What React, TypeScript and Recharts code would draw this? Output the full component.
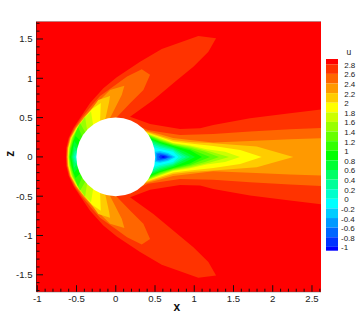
import React from 'react';
import {
  ScatterChart, Scatter, XAxis, YAxis, ReferenceDot, ReferenceLine, ReferenceArea,
} from 'recharts';

type P = [number, number];

// Legend levels of u, top to bottom
const LEVELS = [2.8, 2.6, 2.4, 2.2, 2, 1.8, 1.6, 1.4, 1.2, 1, 0.8, 0.6, 0.4, 0.2, 0, -0.2, -0.4, -0.6, -0.8, -1];
// Flood colours, from the band above 2.8 to the band below -1
const BAND_COLORS = [
  '#ff0000', '#ff3300', '#ff6600', '#ff9900', '#ffcc00', '#ffff00', '#ccff00', '#99ff00', '#66ff00', '#33ff00',
  '#00ff00', '#00ff33', '#00ff66', '#00ff99', '#00ffcc', '#00ffff', '#00ccff', '#0099ff', '#0066ff', '#0033ff', '#0000ff',
];

const X_MIN = -1.01;
const X_MAX = 2.615;
const Z_MIN = -1.715;
const Z_MAX = 1.72;
const LEGEND_MIN = -1.08;
const LEGEND_MAX = 2.91;

const X_TICKS = [-1, -0.9, -0.8, -0.7, -0.6, -0.5, -0.4, -0.3, -0.2, -0.1, 0, 0.1, 0.2, 0.3, 0.4, 0.5, 0.6, 0.7, 0.8, 0.9, 1, 1.1, 1.2, 1.3, 1.4, 1.5, 1.6, 1.7, 1.8, 1.9, 2, 2.1, 2.2, 2.3, 2.4, 2.5, 2.6];
const X_LABELS = [-1, -0.5, 0, 0.5, 1, 1.5, 2, 2.5];
const Z_TICKS = [-1.7, -1.6, -1.5, -1.4, -1.3, -1.2, -1.1, -1, -0.9, -0.8, -0.7, -0.6, -0.5, -0.4, -0.3, -0.2, -0.1, 0, 0.1, 0.2, 0.3, 0.4, 0.5, 0.6, 0.7, 0.8, 0.9, 1, 1.1, 1.2, 1.3, 1.4, 1.5, 1.6, 1.7];
const Z_LABELS = [-1.5, -1, -0.5, 0, 0.5, 1, 1.5];

// Upper half (z >= 0) of each contour "u < level"; the flow field is mirrored about z = 0
const u28: P[] = [[-.633,0],[-.63,.114],[-.60,.241],[-.54,.368],[-.455,.496],[-.327,.686],[-.158,.873],[.013,1.013],[.31,1.21],[.586,1.373],[1.052,1.538],[1.278,1.509],[1.18,1.338],[.989,1.148],[.755,.957],[.479,.725],[.182,.512],[.437,.419],[.819,.356],[1.074,.365],[1.243,.407],[1.711,.492],[2.22,.555],[2.615,.604]];
const u26: P[] = [[-.627,0],[-.62,.114],[-.589,.242],[-.525,.369],[-.436,.496],[-.302,.661],[-.2,.775],[.004,.922],[.144,1.023],[.331,1.115],[.437,1.046],[.352,.852],[.182,.683],[.004,.496],[.348,.369],[.411,.343],[.564,.318],[.819,.28],[1.243,.292],[1.711,.322],[2.22,.352],[2.615,.369]];
const u24: P[] = [[-.62,0],[-.614,.114],[-.582,.242],[-.512,.369],[-.417,.496],[-.289,.636],[-.073,.852],[.11,.906],[.076,.788],[-.073,.496],[.373,.337],[.564,.289],[.73,.242],[.946,.216],[1.243,.182],[1.711,.203],[2.22,.225],[2.615,.238]];
const u22: P[] = [[-.614,0],[-.608,.114],[-.576,.242],[-.506,.369],[-.404,.496],[-.315,.597],[-.222,.725],[-.073,.775],[-.085,.699],[-.136,.47],[.386,.324],[.564,.267],[.73,.216],[.946,.191],[1.239,.174],[1.796,.131],[2.262,0]];
const u20: P[] = [[-.61,0],[-.603,.114],[-.569,.242],[-.499,.369],[-.391,.508],[-.302,.61],[-.191,.686],[-.2,.458],[.392,.311],[.564,.252],[.73,.197],[.946,.172],[1.243,.14],[1.585,.089],[1.86,0]];
const u18: P[] = [[-.605,0],[-.595,.114],[-.563,.242],[-.493,.369],[-.404,.489],[-.315,.577],[-.289,.407],[.405,.299],[.564,.239],[.73,.178],[.946,.146],[1.159,.098],[1.392,.064],[1.583,0]];
const u16: P[] = [[-.6,0],[-.589,.114],[-.557,.242],[-.48,.375],[-.391,.508],[-.366,.343],[.418,.286],[.564,.226],[.73,.169],[.946,.131],[1.201,.07],[1.443,0]];
const u14: P[] = [[-.595,0],[-.582,.114],[-.544,.248],[-.455,.432],[-.391,.318],[.431,.273],[.564,.216],[.73,.159],[.946,.117],[1.137,.064],[1.316,0]];
const u12: P[] = [[-.589,0],[-.574,.114],[-.531,.254],[-.48,.381],[-.429,.259],[.437,.261],[.564,.203],[.73,.15],[.946,.102],[1.201,0]];
const u10: P[] = [[-.582,0],[-.566,.102],[-.544,.19],[-.512,.267],[-.455,.21],[.443,.242],[.564,.191],[.73,.14],[.946,.083],[1.099,0]];
const u08: P[] = [[-.57,0],[-.55,.089],[-.531,.203],[-.48,.14],[.456,.222],[.564,.178],[.73,.127],[.883,.064],[1.01,0]];
const u06: P[] = [[-.557,0],[-.538,.076],[-.534,.14],[-.493,.089],[.462,.203],[.564,.161],[.73,.114],[.946,0]];
const u04: P[] = [[-.544,0],[-.525,.064],[-.499,.089],[-.493,.038],[.475,.178],[.564,.142],[.73,.098],[.896,0]];
const u02: P[] = [[-.527,0],[-.506,.051],[-.48,.025],[.482,.153],[.564,.123],[.73,.083],[.845,0]];
const u00: P[] = [[-.515,0],[-.49,.025],[.488,.127],[.564,.102],[.73,.064],[.8,0]];
const um02: P[] = [[.45,0],[.5,.064],[.564,.076],[.666,.051],[.762,0]];
const um04: P[] = [[.51,0],[.513,.051],[.564,.057],[.654,.038],[.73,0]];
const um06: P[] = [[.526,0],[.53,.04],[.564,.044],[.641,.025],[.698,0]];
const um08: P[] = [[.545,0],[.571,.025],[.628,.019],[.666,0]];
const um10: P[] = [[.577,0],[.603,.013],[.637,0]];
const CONTOURS = [u28, u26, u24, u22, u20, u18, u16, u14, u12, u10, u08, u06, u04, u02, u00, um02, um04, um06, um08, um10];

const FIELD_CORNERS: P[] = [[X_MIN, Z_MIN], [X_MIN, Z_MAX], [X_MAX, Z_MAX], [X_MAX, Z_MIN]];

const toPoints = (a: P[]) => a.map(([x, y]) => ({ x, y }));
const closed = (upper: P[]) => toPoints([...upper, ...[...upper].reverse().map(([x, z]) => [x, -z] as P)]);
const NoDot = () => <g />;

const FONT = '"Liberation Sans", Arial, sans-serif';
const INK = '#222';

const XTick = (p: any) => {
  const major = X_LABELS.includes(p.payload.value);
  return (
    <g>
      <line x1={p.x} x2={p.x} y1={p.y} y2={p.y - (major ? 6.5 : 3)} stroke="#111" strokeWidth={1} />
      {major && (
        <text x={p.x} y={p.y + 10.3} textAnchor="middle" fontSize={9.6} fontFamily={FONT} fill={INK}>
          {p.payload.value}
        </text>
      )}
    </g>
  );
};

const YTick = (p: any) => {
  const major = Z_LABELS.includes(p.payload.value);
  return (
    <g>
      <line x1={p.x} x2={p.x + (major ? 6.5 : 3)} y1={p.y} y2={p.y} stroke="#111" strokeWidth={1} />
      {major && (
        <text x={p.x - 4} y={p.y + 3.4} textAnchor="end" fontSize={9.6} fontFamily={FONT} fill={INK}>
          {p.payload.value}
        </text>
      )}
    </g>
  );
};

const LegendTick = (p: any) => {
  const v = p.payload.value;
  return (
    <text x={v < 0 ? 341 : 344.2} y={p.y + 3.5} textAnchor="start" fontSize={8} fontFamily={FONT} fill={INK}>
      {v}
    </text>
  );
};

const abs: React.CSSProperties = { position: 'absolute', left: 0, top: 0 };

export default function App() {
  return (
    <div style={{ position: 'absolute', left: 0, top: 0, width: 361, height: 321, background: '#fff' }}>
      <div style={abs}>
        <ScatterChart width={361} height={321} margin={{ top: 21.7, right: 40, bottom: 0, left: 0 }}>
          <XAxis
            type="number" dataKey="x" domain={[X_MIN, X_MAX]} ticks={X_TICKS} interval={0}
            tick={XTick} tickLine={false} tickSize={0} tickMargin={0} height={29.3}
            axisLine={{ stroke: '#333', strokeWidth: 1 }}
            label={{ value: 'x', position: 'insideBottom', offset: 10, dx: -2, style: { fontFamily: FONT, fontWeight: 700, fontSize: 12, fill: '#111' } }}
          />
          <YAxis
            type="number" dataKey="y" domain={[Z_MIN, Z_MAX]} ticks={Z_TICKS} interval={0}
            tick={YTick} tickLine={false} tickSize={0} tickMargin={0} width={36.5}
            axisLine={{ stroke: '#111', strokeWidth: 1 }}
            label={{ value: 'z', angle: -90, position: 'insideLeft', offset: 10, style: { fontFamily: FONT, fontWeight: 700, fontSize: 12, fill: '#111' } }}
          />
          <Scatter
            data={toPoints(FIELD_CORNERS)} isAnimationActive={false} shape={NoDot}
            line={{ fill: BAND_COLORS[0], stroke: 'none' }} lineJointType="linear"
          />
          {CONTOURS.map((c, i) => (
            <Scatter
              key={i} data={closed(c)} isAnimationActive={false} shape={NoDot}
              line={{ fill: BAND_COLORS[i + 1], stroke: 'none' }} lineJointType="linear"
            />
          ))}
          <ReferenceDot x={0} y={0} r={39.4} fill="#fff" stroke="none" />
          <ReferenceLine y={Z_MAX} stroke="#999" strokeWidth={1} />
        </ScatterChart>
      </div>
      <div style={abs}>
        <ScatterChart width={361} height={321} margin={{ top: 59, right: 0, bottom: 70.3, left: 326 }}>
          <XAxis type="number" dataKey="x" domain={[0, 1]} hide />
          <YAxis
            type="number" dataKey="y" orientation="right" domain={[LEGEND_MIN, LEGEND_MAX]} ticks={LEVELS} interval={0}
            tick={LegendTick} tickLine={false} axisLine={false} tickSize={0} tickMargin={0} width={23}
          />
          <Scatter data={LEVELS.map((y) => ({ x: 0.5, y }))} isAnimationActive={false} shape={NoDot} />
          {BAND_COLORS.map((c, i) => (
            <ReferenceArea
              key={i} x1={0} x2={1}
              y1={i === 20 ? LEGEND_MIN : LEVELS[i]}
              y2={i === 0 ? LEGEND_MAX : LEVELS[i - 1]}
              fill={c} fillOpacity={1} stroke="none"
            />
          ))}
        </ScatterChart>
      </div>
      <div style={{ position: 'absolute', left: 346.5, top: 47, fontFamily: FONT, fontSize: 8.5, lineHeight: '10px', color: INK }}>u</div>
    </div>
  );
}
